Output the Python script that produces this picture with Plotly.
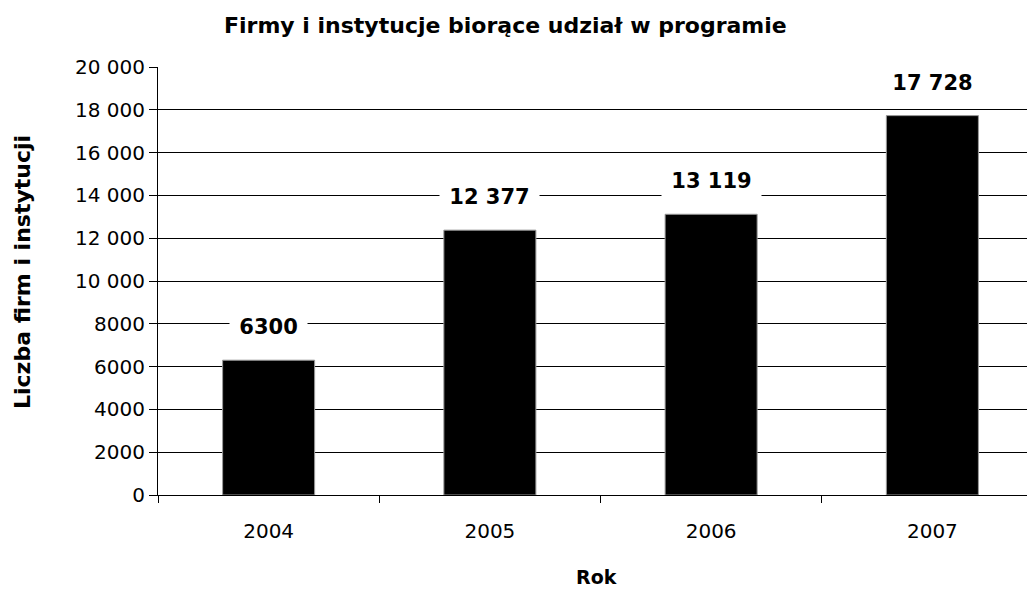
import plotly.graph_objects as go

years = ["2004", "2005", "2006", "2007"]
values = [6300, 12377, 13119, 17728]
value_labels = ["6300", "12 377", "13 119", "17 728"]
y_tickvals = [0, 2000, 4000, 6000, 8000, 10000, 12000, 14000, 16000, 18000, 20000]
y_ticktext = ["0", "2000", "4000", "6000", "8000", "10 000", "12 000", "14 000", "16 000", "18 000", "20 000"]

FONT = "DejaVu Sans, Verdana, sans-serif"
PLOT_W = 885

fig = go.Figure()
fig.add_trace(go.Bar(
    x=years, y=values, width=0.416,
    marker=dict(color="black", line=dict(color="#9a9a9a", width=1)),
    hoverinfo="skip",
))

for i, (v, lab) in enumerate(zip(values, value_labels)):
    fig.add_annotation(
        x=i, y=v, xref="x", yref="y", text=f"<b>&nbsp;{lab}&nbsp;</b>",
        showarrow=False, yshift=33, yanchor="middle", bgcolor="white", borderpad=2,
        height=26, font=dict(family=FONT, size=21, color="black"),
    )

fig.add_annotation(
    x=(497 - 150) / PLOT_W, y=1, xref="paper", yref="paper", yshift=42,
    text="<b>Firmy i instytucje biorące udział w programie</b>",
    showarrow=False, xanchor="center", yanchor="middle",
    font=dict(family=FONT, size=22, color="black"),
)
fig.add_annotation(
    x=0, y=(487 - 264) / 428, xref="paper", yref="paper", xshift=-136,
    text="<b>Liczba firm i instytucji</b>",
    showarrow=False, textangle=-90, xanchor="center", yanchor="middle",
    font=dict(family=FONT, size=22, color="black"),
)
fig.add_annotation(
    x=(588 - 150) / PLOT_W, y=0, xref="paper", yref="paper", yshift=-82, text="<b>Rok</b>",
    showarrow=False, xanchor="center", yanchor="middle",
    font=dict(family=FONT, size=19, color="black"),
)

fig.update_layout(
    width=150 + PLOT_W, height=582,
    margin=dict(l=150, r=0, t=59, b=95),
    paper_bgcolor="white", plot_bgcolor="white",
    showlegend=False,
    font=dict(family=FONT, size=20, color="black"),
    xaxis=dict(
        type="category",
        range=[-0.5, 3.5], showline=True, linecolor="black", linewidth=1,
        ticks="outside", tickson="boundaries", ticklen=7, tickcolor="black",
        ticklabelstandoff=18,
        showgrid=False, tickfont=dict(family=FONT, size=20), fixedrange=True,
    ),
    yaxis=dict(
        range=[0, 20000], tickvals=y_tickvals, ticktext=y_ticktext,
        showline=True, linecolor="black", linewidth=1,
        showgrid=True, gridcolor="black", gridwidth=1,
        ticks="outside", ticklen=8, tickcolor="black",
        tickfont=dict(family=FONT, size=20), zeroline=False, fixedrange=True,
    ),
)

fig.write_html("out.html")
